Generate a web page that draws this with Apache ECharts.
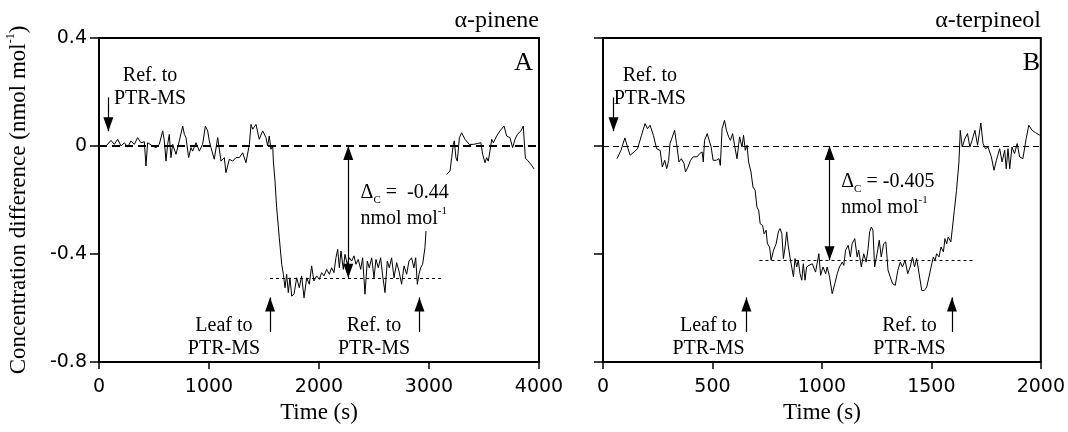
<!DOCTYPE html>
<html>
<head>
<meta charset="utf-8">
<script src="https://cdn.jsdelivr.net/npm/echarts@6/dist/echarts.min.js"></script>
<style>html,body{margin:0;padding:0;background:#fff}#c{width:1068px;height:432px}</style>
</head>
<body>
<div id="c"></div>
<script>
// ---- Data ----
const xTicksA = [0, 1000, 2000, 3000, 4000];
const xTicksB = [0, 500, 1000, 1500, 2000];
const yTicks = [-0.8, -0.4, 0, 0.4];

// Panel A: alpha-pinene (time s, concentration difference nmol/mol); null = gap
const timeA = [64,109,139,170,200,230,261,291,321,351,
 382,397,412,427,442,458,488,518,548,579,
 594,609,624,639,654,670,700,730,761,776,
 791,815,836,851,882,912,942,967,988,1003,
 1018,1048,1079,1109,1139,1154,1185,1215,1245,1276,
 1306,1336,1367,1382,1397,1427,1457,1488,1518,1533,
 1548,1563,1579,1585,1600,1615,1639,1661,1676,1691,
 1706,1721,1736,1752,1773,1797,1821,1842,1864,1888,
 1912,1933,1954,1979,2003,2024,2045,2070,2094,2115,
 2136,2154,2170,2185,2200,2221,2236,2257,2276,2297,
 2318,2336,2357,2379,2397,2418,2439,2457,2479,2500,
 2518,2539,2560,2579,2600,2621,2639,2660,2682,2706,
 2727,2751,2773,2797,2818,2842,2863,2879,2894,2909,
 2924,2942,2963,2973,3060,3160,3176,3191,3206,3221,
 3230,3245,3257,3276,3297,3327,3366,3403,3439,3472,
 3488,3509,3524,3539,3554,3570,3585,3615,3645,3682,
 3706,3736,3760,3782,3803,3818,3836,3857,3868,3876,
 3900,3930,3955];
const valueA = [0,0.021,0.006,0.025,0,0.012,-0.004,0.019,0.006,0.031,
 0.012,0.006,0.016,-0.074,0.012,0.006,0,-0.006,0.006,0.056,
 0.019,-0.056,0.006,0.043,-0.043,0.006,-0.031,0.019,0.074,0.043,
 0.031,-0.043,-0.006,-0.019,0.012,-0.019,0.006,0.074,0.056,0.019,
 -0.006,-0.049,0.031,-0.056,-0.043,-0.099,-0.049,-0.056,-0.043,-0.043,
 -0.025,-0.062,0.006,0.080,0.062,0.080,0.025,0.056,0.031,0,
 0.037,-0.012,0,-0.056,-0.13,-0.228,-0.34,-0.438,-0.475,-0.525,
 -0.475,-0.543,-0.488,-0.556,-0.549,-0.488,-0.525,-0.481,-0.562,-0.488,
 -0.512,-0.444,-0.5,-0.481,-0.494,-0.469,-0.481,-0.457,-0.475,-0.451,
 -0.469,-0.414,-0.383,-0.451,-0.389,-0.457,-0.401,-0.438,-0.414,-0.426,
 -0.407,-0.438,-0.42,-0.457,-0.414,-0.549,-0.426,-0.451,-0.414,-0.488,
 -0.42,-0.451,-0.414,-0.481,-0.543,-0.426,-0.451,-0.414,-0.488,-0.432,
 -0.463,-0.512,-0.444,-0.475,-0.426,-0.414,-0.451,-0.414,-0.512,-0.475,
 -0.451,-0.438,-0.377,-0.315,null,-0.105,-0.099,-0.093,-0.043,0.006,
 0.019,-0.043,-0.056,0.031,0.049,0.025,0.006,0.006,0.009,0.012,
 -0.031,-0.062,-0.043,-0.056,-0.019,0.025,0.012,0.037,0.056,0.074,
 0.037,0.031,-0.006,0.025,0.043,0.037,0.056,0.074,0.08,-0.045,
 -0.055,-0.07,-0.085];

// Panel B: alpha-terpineol
const timeB = [64,82,100,112,124,142,158,176,192,203,
 215,230,245,261,271,282,291,300,306,317,
 327,336,347,358,370,377,388,400,412,430,
 442,453,458,464,476,485,494,503,518,530,
 536,544,555,564,574,582,592,601,612,624,
 635,642,650,658,665,676,685,695,703,711,
 718,729,736,745,751,761,768,779,791,801,
 809,817,824,832,839,847,854,862,870,877,
 885,892,900,908,915,923,930,941,956,971,
 986,994,1005,1017,1024,1035,1047,1059,1070,1080,
 1093,1100,1108,1120,1130,1138,1150,1161,1168,1180,
 1191,1202,1211,1218,1226,1233,1241,1252,1262,1271,
 1282,1292,1302,1312,1323,1335,1347,1358,1368,1380,
 1392,1403,1414,1423,1433,1444,1456,1468,1479,1489,
 1502,1509,1517,1524,1535,1544,1555,1562,1570,1577,
 1589,1595,1605,1615,1626,1632,1641,1653,1665,1676,
 1686,1699,1711,1726,1736,1747,1759,1774,1786,1797,
 1812,1823,1835,1842,1850,1858,1868,1880,1892,1903,
 1918,1933,1945,1960,1975,1995];
const valueB = [-0.047,-0.016,0.030,-0.004,-0.034,-0.022,-0.010,0.040,0.083,0.064,
 0.077,0.040,-0.010,-0.016,-0.078,-0.053,-0.084,-0.053,0.009,0.034,
 0.058,0.009,-0.059,-0.047,-0.065,-0.096,-0.078,-0.053,-0.040,-0.040,
 -0.028,-0.022,-0.059,0.021,0.046,0.052,-0.004,-0.053,-0.053,-0.047,
 -0.072,0.064,0.095,0.058,0.034,0.021,0.046,0.003,-0.047,0.034,
 -0.004,0.040,-0.016,0.003,-0.059,-0.096,-0.152,-0.164,-0.226,-0.238,
 -0.288,-0.294,-0.325,-0.312,-0.362,-0.374,-0.423,-0.386,-0.362,-0.318,
 -0.306,-0.325,-0.417,-0.374,-0.318,-0.374,-0.411,-0.405,-0.485,-0.417,
 -0.448,-0.423,-0.473,-0.497,-0.436,-0.497,-0.448,-0.442,-0.436,-0.467,
 -0.399,-0.479,-0.448,-0.473,-0.448,-0.485,-0.547,-0.510,-0.473,-0.448,
 -0.430,-0.442,-0.386,-0.368,-0.411,-0.362,-0.343,-0.411,-0.386,-0.448,
 -0.399,-0.430,-0.380,-0.318,-0.300,-0.312,-0.448,-0.399,-0.349,-0.411,
 -0.362,-0.355,-0.460,-0.485,-0.510,-0.516,-0.460,-0.430,-0.448,-0.423,
 -0.473,-0.448,-0.411,-0.448,-0.417,-0.473,-0.535,-0.535,-0.522,-0.485,
 -0.436,-0.411,-0.423,-0.399,-0.411,-0.374,-0.392,-0.343,-0.362,-0.337,
 -0.355,-0.312,-0.238,-0.164,-0.059,0.058,-0.004,0.027,0.046,-0.004,
 0.021,0.058,0.003,0.085,0.009,-0.010,-0.004,-0.040,-0.090,-0.053,
 -0.010,-0.059,-0.016,-0.084,-0.010,-0.084,-0.004,-0.028,0.009,-0.040,
 -0.047,0.027,0.077,0.058,0.050,0.040];

// Levels
const plateauA = -0.488, plateauB = -0.423;
const deltaA = '-0.44', deltaB = '-0.405';

// ---- Chart ----
const SERIF = '"Liberation Serif", "Times New Roman", serif';
const SANS = '"DejaVu Sans", Verdana, sans-serif';
const chart = echarts.init(document.getElementById('c'), null, {renderer: 'canvas'});

const pairs = (ts, vs) => ts.map((t, i) => [t, vs[i] === null ? '-' : vs[i]]);
const head = {symbol: 'triangle', symbolSize: [10, 14], symbolOffset: [0, 7]};
const noSym = {symbol: 'none'};
const arrowStyle = {color: '#000', width: 1.2, type: 'solid'};
function arrow(t, v1, v2, both) {
  return [Object.assign({coord: [t, v1], lineStyle: arrowStyle}, both ? head : noSym),
          Object.assign({coord: [t, v2], lineStyle: arrowStyle}, head)];
}
const rich = {
  a: {fontFamily: SERIF, fontSize: 20, color: '#000', lineHeight: 26},
  s: {fontFamily: SERIF, fontSize: 11, color: '#000', lineHeight: 12, verticalAlign: 'bottom'},
  p: {fontFamily: SERIF, fontSize: 11, color: '#000', lineHeight: 12, verticalAlign: 'top'}
};
function textPt(t, v, text, pos) {
  return {coord: [t, v], label: {show: true, formatter: text, position: pos || 'inside'}};
}
const textLabel = {show: true, fontFamily: SERIF, fontSize: 20, color: '#000', lineHeight: 23, distance: 0, rich: rich};

function xAxisOf(grid, ticks) {
  return {
    gridIndex: grid, type: 'value', min: ticks[0], max: ticks[ticks.length - 1], interval: ticks[1] - ticks[0],
    axisLine: {show: true, onZero: false, lineStyle: {color: '#000', width: 2}},
    axisTick: {show: true, length: 7, lineStyle: {color: '#000', width: 1.5}},
    axisLabel: {fontFamily: SANS, fontSize: 19, color: '#000', margin: 16, formatter: v => String(Math.round(v))},
    splitLine: {show: false},
    name: 'Time (s)', nameLocation: 'middle', nameGap: 33,
    nameTextStyle: {fontFamily: SERIF, fontSize: 23, color: '#000'}
  };
}
function yAxisOf(grid, showLabels) {
  const ax = {
    gridIndex: grid, type: 'value', min: yTicks[0], max: yTicks[yTicks.length - 1], interval: yTicks[1] - yTicks[0],
    axisLine: {show: true, onZero: false, lineStyle: {color: '#000', width: 2}},
    axisTick: {show: true, length: 9, lineStyle: {color: '#000', width: 1.5}},
    axisLabel: {show: showLabels, fontFamily: SANS, fontSize: 19, color: '#000', margin: 12,
      formatter: v => { const r = Math.round(v * 10) / 10; return r === 0 ? '0' : String(r); }},
    splitLine: {show: false}
  };
  if (showLabels) {
    ax.name = '{a|Concentration difference (nmol mol}{p|-1}{a|)}';
    ax.nameLocation = 'middle';
    ax.nameGap = 66;
    ax.nameRotate = 90;
    ax.nameTextStyle = {fontFamily: SERIF, fontSize: 23, color: '#000', rich: {
      a: {fontFamily: SERIF, fontSize: 23, color: '#000', lineHeight: 28},
      p: {fontFamily: SERIF, fontSize: 12, color: '#000', lineHeight: 12, verticalAlign: 'top'}
    }};
  }
  return ax;
}
const gridBase = {top: 38, width: 440, height: 324, show: true, borderColor: '#000', borderWidth: 2, backgroundColor: 'transparent'};
const titleStyle = (size) => ({fontFamily: SERIF, fontSize: size, fontWeight: 'normal', color: '#000'});

const option = {
  animation: false,
  backgroundColor: '#fff',
  title: [
    {text: 'α-pinene', right: 1068 - 539, top: 9, padding: 0, textStyle: titleStyle(24)},
    {text: 'A', right: 1068 - 533, top: 50, padding: 0, textStyle: titleStyle(26)},
    {text: 'α-terpineol', right: 1068 - 1041, top: 9, padding: 0, textStyle: titleStyle(24)},
    {text: 'B', right: 1068 - 1040, top: 50, padding: 0, textStyle: titleStyle(26)}
  ],
  grid: [Object.assign({left: 99}, gridBase), Object.assign({left: 603}, gridBase)],
  xAxis: [xAxisOf(0, xTicksA), xAxisOf(1, xTicksB)],
  yAxis: [yAxisOf(0, true), yAxisOf(1, false)],
  series: [
    {
      type: 'line', xAxisIndex: 0, yAxisIndex: 0, data: pairs(timeA, valueA),
      showSymbol: false, symbol: 'none', connectNulls: false,
      lineStyle: {color: '#000', width: 1}, z: 3,
      markLine: {
        silent: true, animation: false, symbol: ['none', 'none'], label: {show: false},
        emphasis: {disabled: true},
        data: [
          {yAxis: 0, lineStyle: {color: '#000', width: 1.8, type: [8, 5]}},
          [{coord: [1555, plateauA], lineStyle: {color: '#000', width: 1, type: [3, 3]}},
           {coord: [3127, plateauA], lineStyle: {color: '#000', width: 1, type: [3, 3]}}],
          arrow(85, 0.18, 0.055, false),
          arrow(1555, -0.689, -0.561, false),
          arrow(2913, -0.689, -0.561, false),
          arrow(2266, plateauA, 0, true)
        ]
      },
      markPoint: {
        silent: true, animation: false, symbol: 'circle', symbolSize: 1,
        itemStyle: {color: 'rgba(0,0,0,0)'}, label: textLabel,
        data: [
          textPt(464, 0.219, 'Ref. to\nPTR-MS'),
          textPt(1136, -0.707, 'Leaf to\nPTR-MS'),
          textPt(2500, -0.707, 'Ref. to\nPTR-MS'),
          textPt(2373, -0.22, '{a|Δ}{s|C}{a| =  ' + deltaA + '}\n{a|nmol mol}{p|-1}', 'right')
        ]
      }
    },
    {
      type: 'line', xAxisIndex: 1, yAxisIndex: 1, data: pairs(timeB, valueB),
      showSymbol: false, symbol: 'none', connectNulls: false,
      lineStyle: {color: '#000', width: 1}, z: 3,
      markLine: {
        silent: true, animation: false, symbol: ['none', 'none'], label: {show: false},
        emphasis: {disabled: true},
        data: [
          {yAxis: 0, lineStyle: {color: '#000', width: 1.2, type: [6, 4]}},
          [{coord: [715, plateauB], lineStyle: {color: '#000', width: 1, type: [3, 3]}},
           {coord: [1695, plateauB], lineStyle: {color: '#000', width: 1, type: [3, 3]}}],
          arrow(48, 0.18, 0.055, false),
          arrow(655, -0.689, -0.561, false),
          arrow(1594, -0.689, -0.561, false),
          arrow(1035, plateauB, 0, true)
        ]
      },
      markPoint: {
        silent: true, animation: false, symbol: 'circle', symbolSize: 1,
        itemStyle: {color: 'rgba(0,0,0,0)'}, label: textLabel,
        data: [
          textPt(214, 0.219, 'Ref. to\nPTR-MS'),
          textPt(482, -0.707, 'Leaf to\nPTR-MS'),
          textPt(1400, -0.707, 'Ref. to\nPTR-MS'),
          textPt(1086, -0.181, '{a|Δ}{s|C}{a| = ' + deltaB + '}\n{a|nmol mol}{p|-1}', 'right')
        ]
      }
    }
  ]
};
chart.setOption(option);
</script>
</body>
</html>
